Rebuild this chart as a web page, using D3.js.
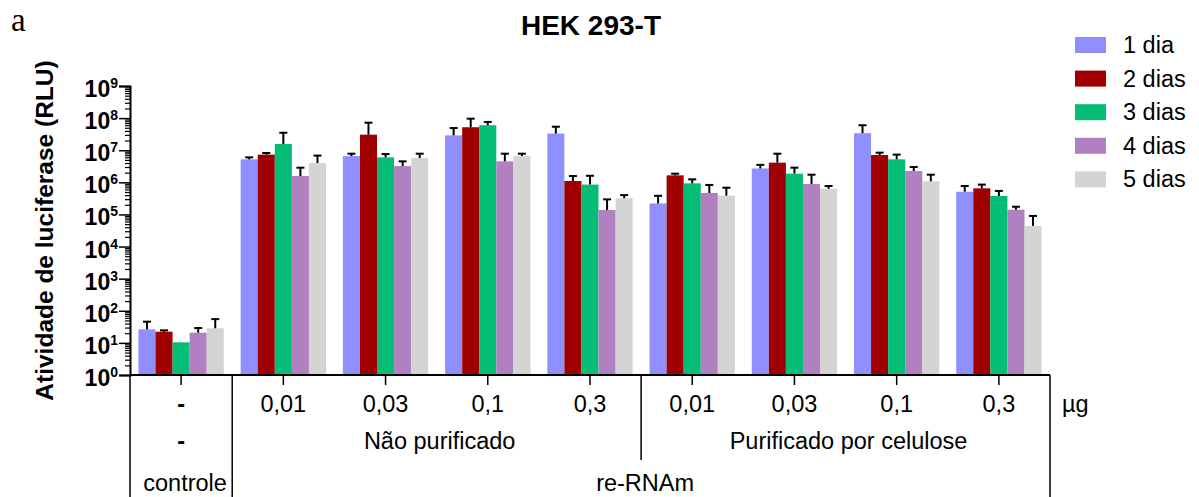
<!DOCTYPE html>
<html>
<head>
<meta charset="utf-8">
<script src="https://cdn.jsdelivr.net/npm/d3@7"></script>
<style>
  body { margin: 0; background: #fff; }
  text { font-family: "Liberation Sans", Arial, sans-serif; }
</style>
</head>
<body>
<div id="chart"></div>
<script>
// HEK 293-T - luciferase activity by dose and days (log scale bars)

const groups = ['ctrl', 'np001', 'np003', 'np01', 'np03', 'pc001', 'pc003', 'pc01', 'pc03'];
const doseLabels = ['-', '0,01', '0,03', '0,1', '0,3', '0,01', '0,03', '0,1', '0,3'];
const seriesNames = ['1 dia', '2 dias', '3 dias', '4 dias', '5 dias'];
const colors = ['#8f8fff', '#a00000', '#05bd76', '#b080c0', '#d4d4d4'];

// mean values per series (one entry per group)
const dia1 = [26.5, 5.2e6, 6.6e6, 2.9e7, 3.3e7, 2.2e5, 2.7e6, 3.4e7, 5.1e5];
const dia2 = [22.3, 7.3e6, 3.05e7, 5.2e7, 1.1e6, 1.65e6, 4.1e6, 7.1e6, 6.5e5];
const dia3 = [10.4, 1.56e7, 6.0e6, 6.0e7, 8.5e5, 9.3e5, 1.86e6, 5.2e6, 3.75e5];
const dia4 = [20.8, 1.57e6, 3.2e6, 4.5e6, 1.38e5, 4.66e5, 8.9e5, 2.25e6, 1.4e5];
const dia5 = [28.5, 4.0e6, 5.7e6, 6.6e6, 3.2e5, 3.85e5, 6.3e5, 1.08e6, 4.4e4];

// top of the error bars (mean + SD)
const dia1Err = [45.7, 6.0e6, 7.8e6, 4.9e7, 5.4e7, 3.8e5, 3.5e6, 6.0e7, 7.7e5];
const dia2Err = [24.6, 8.2e6, 7.2e7, 9.6e7, 1.57e6, 1.86e6, 7.8e6, 8.4e6, 8.5e5];
const dia3Err = [10.4, 3.5e7, 7.6e6, 7.6e7, 1.6e6, 1.24e6, 2.86e6, 7.3e6, 5.4e5];
const dia4Err = [29, 2.86e6, 4.5e6, 7.8e6, 2.95e5, 8.3e5, 1.73e6, 3.0e6, 1.74e5];
const dia5Err = [55, 6.8e6, 7.8e6, 7.8e6, 4.0e5, 6.8e5, 7.7e5, 1.73e6, 9.0e4];

const means = [dia1, dia2, dia3, dia4, dia5];
const errs = [dia1Err, dia2Err, dia3Err, dia4Err, dia5Err];

const width = 1199;
const height = 497;
const plotLeft = 130, plotRight = 1050, plotTop = 86, plotBottom = 375;
const labelSize = 23.5;

const svg = d3.select('#chart')
  .append('svg')
  .attr('width', width)
  .attr('height', height);

const x0 = d3.scaleBand().domain(groups).range([plotLeft, plotRight]).padding(0);
const innerW = x0.bandwidth() * 0.835;
const x1 = d3.scaleBand().domain(seriesNames).range([0, innerW]);
const offset = (x0.bandwidth() - innerW) / 2;
const y = d3.scaleLog().domain([1, 1e9]).range([plotBottom, plotTop]);

// flatten into records
const records = [];
groups.forEach((g, gi) => {
  seriesNames.forEach((s, si) => {
    records.push({ group: g, series: s, si: si, value: means[si][gi], err: errs[si][gi] });
  });
});

const barX = d => x0(d.group) + offset + x1(d.series);

// bars
svg.append('g')
  .selectAll('rect')
  .data(records)
  .enter().append('rect')
  .attr('x', barX)
  .attr('y', d => y(d.value))
  .attr('width', x1.bandwidth())
  .attr('height', d => plotBottom - y(d.value))
  .attr('fill', d => colors[d.si]);

// error bars
const eb = svg.append('g')
  .attr('stroke', '#000')
  .attr('stroke-width', 2)
  .selectAll('g')
  .data(records.filter(d => d.err > d.value))
  .enter().append('g');

eb.append('line')
  .attr('x1', d => barX(d) + x1.bandwidth() / 2)
  .attr('x2', d => barX(d) + x1.bandwidth() / 2)
  .attr('y1', d => y(d.value))
  .attr('y2', d => y(d.err));

eb.append('line')
  .attr('x1', d => barX(d) + x1.bandwidth() / 2 - 4)
  .attr('x2', d => barX(d) + x1.bandwidth() / 2 + 4)
  .attr('y1', d => y(d.err))
  .attr('y2', d => y(d.err));

// y axis: major and minor ticks
const majors = d3.range(0, 10).map(k => Math.pow(10, k));
const minors = [];
for (let k = 0; k < 9; k++) {
  for (let m = 2; m <= 9; m++) minors.push(m * Math.pow(10, k));
}

const yAxis = svg.append('g')
  .attr('transform', `translate(${plotLeft},0)`)
  .call(d3.axisLeft(y).tickValues(majors).tickSize(11).tickFormat(''));
yAxis.select('.domain').attr('stroke-width', 2);
yAxis.selectAll('.tick line').attr('stroke-width', 1.5);

svg.append('g')
  .attr('transform', `translate(${plotLeft},0)`)
  .call(d3.axisLeft(y).tickValues(minors).tickSize(5).tickFormat(''))
  .call(g => g.select('.domain').remove())
  .selectAll('.tick line').attr('stroke-width', 1.2);

// y tick labels 10^k
const yl = svg.append('g')
  .selectAll('text')
  .data(majors)
  .enter().append('text')
  .attr('x', plotLeft - 12)
  .attr('y', d => y(d) + 11)
  .attr('text-anchor', 'end')
  .attr('font-weight', 'bold')
  .attr('font-size', 23);
yl.append('tspan').text('10');
yl.append('tspan')
  .attr('dy', -9)
  .attr('font-size', 14)
  .text(d => Math.round(Math.log10(d)));

// y axis title
svg.append('text')
  .attr('transform', `translate(53,${(plotTop + plotBottom) / 2}) rotate(-90)`)
  .attr('text-anchor', 'middle')
  .attr('font-weight', 'bold')
  .attr('font-size', 24.5)
  .text('Atividade de luciferase (RLU)');

// x axis and table lines
svg.append('line')
  .attr('x1', plotLeft).attr('x2', plotRight)
  .attr('y1', plotBottom).attr('y2', plotBottom)
  .attr('stroke', '#000').attr('stroke-width', 2);

svg.append('g')
  .attr('stroke', '#000')
  .attr('stroke-width', 1.5)
  .selectAll('line')
  .data(groups)
  .enter().append('line')
  .attr('x1', d => x0(d) + x0.bandwidth() / 2)
  .attr('x2', d => x0(d) + x0.bandwidth() / 2)
  .attr('y1', plotBottom)
  .attr('y2', plotBottom + 10);

const dividers = [
  { x: plotLeft, y2: height },
  { x: x0('np001'), y2: height },
  { x: x0('pc001'), y2: 460 },
  { x: plotRight, y2: height }
];
svg.append('g')
  .attr('stroke', '#000')
  .attr('stroke-width', 1.5)
  .selectAll('line')
  .data(dividers)
  .enter().append('line')
  .attr('x1', d => d.x).attr('x2', d => d.x)
  .attr('y1', plotBottom).attr('y2', d => d.y2);

// dose row
svg.append('g')
  .selectAll('text')
  .data(groups)
  .enter().append('text')
  .attr('x', d => x0(d) + x0.bandwidth() / 2)
  .attr('y', 412)
  .attr('text-anchor', 'middle')
  .attr('font-size', labelSize)
  .attr('font-weight', (d, i) => i === 0 ? 'bold' : 'normal')
  .text((d, i) => doseLabels[i]);

svg.append('text')
  .attr('x', 1062).attr('y', 412)
  .attr('font-size', labelSize)
  .text('µg');

// second row
const row2 = [
  { x: x0('ctrl') + x0.bandwidth() / 2, t: '-', b: true },
  { x: (x0('np001') + x0('pc001')) / 2 + 3, t: 'Não purificado' },
  { x: (x0('pc001') + plotRight) / 2 + 3, t: 'Purificado por celulose' }
];
svg.append('g')
  .selectAll('text')
  .data(row2)
  .enter().append('text')
  .attr('x', d => d.x)
  .attr('y', 449)
  .attr('text-anchor', 'middle')
  .attr('font-size', labelSize)
  .attr('font-weight', d => d.b ? 'bold' : 'normal')
  .text(d => d.t);

// third row
const row3 = [
  { x: x0('ctrl') + x0.bandwidth() / 2 + 4, t: 'controle' },
  { x: (x0('np001') + plotRight) / 2 + 4, t: 're-RNAm' }
];
svg.append('g')
  .selectAll('text')
  .data(row3)
  .enter().append('text')
  .attr('x', d => d.x)
  .attr('y', 491)
  .attr('text-anchor', 'middle')
  .attr('font-size', labelSize)
  .text(d => d.t);

// title
svg.append('text')
  .attr('x', 591).attr('y', 35)
  .attr('text-anchor', 'middle')
  .attr('font-weight', 'bold')
  .attr('font-size', 28)
  .text('HEK 293-T');

// panel letter
svg.append('text')
  .attr('x', 11).attr('y', 30.5)
  .style('font-family', '"Liberation Serif", "Times New Roman", serif')
  .attr('font-size', 33)
  .text('a');

// legend
const legend = svg.append('g')
  .selectAll('g')
  .data(seriesNames)
  .enter().append('g')
  .attr('transform', (d, i) => `translate(1075,${37 + i * 33.6})`);

legend.append('rect')
  .attr('width', 31)
  .attr('height', 16)
  .attr('fill', (d, i) => colors[i]);

legend.append('text')
  .attr('x', 48)
  .attr('y', 16)
  .attr('font-size', labelSize)
  .text(d => d);
</script>
</body>
</html>
